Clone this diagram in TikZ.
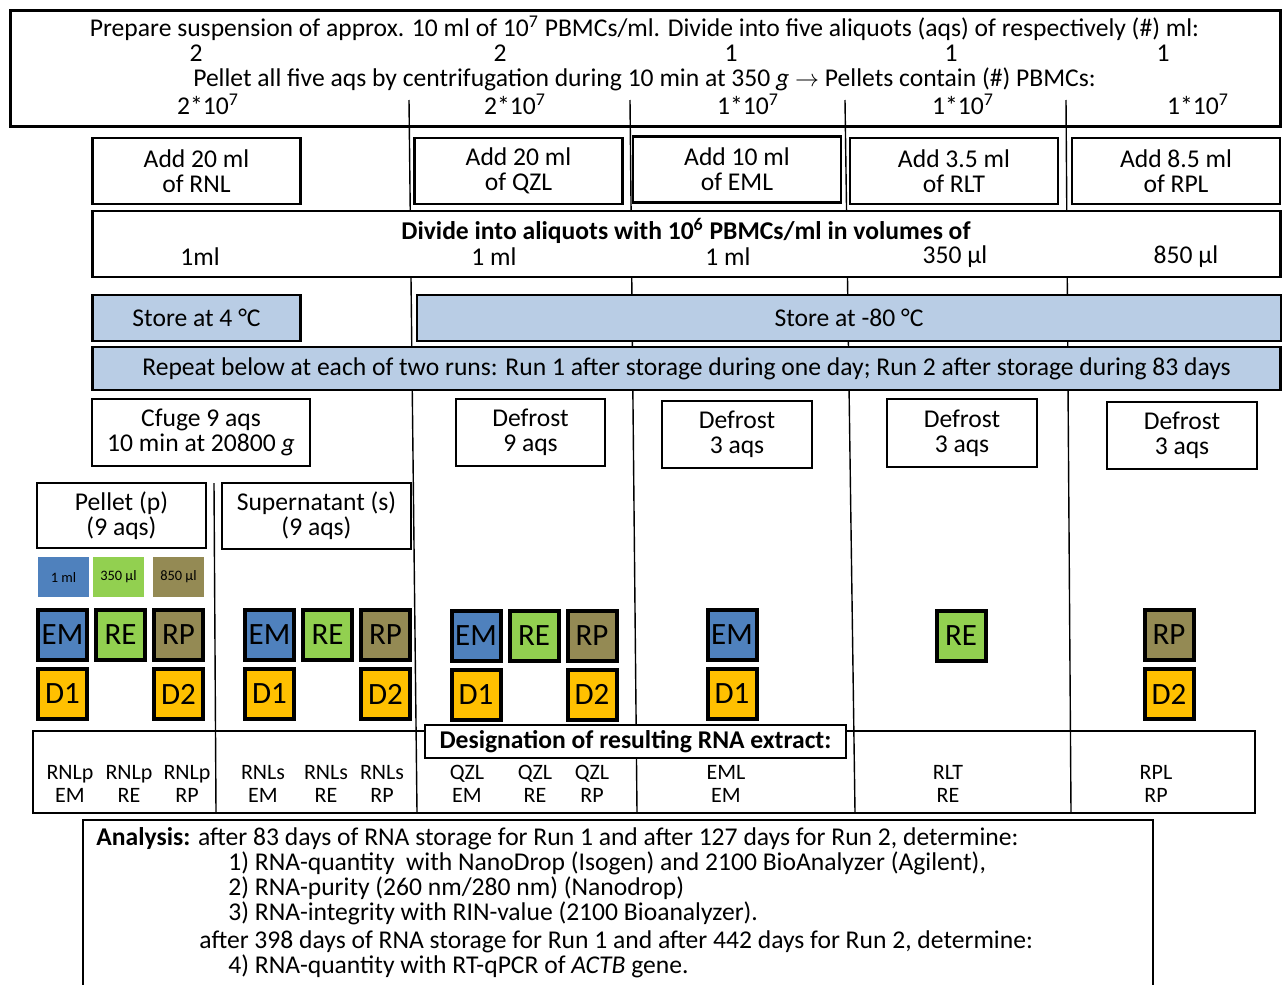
\documentclass[tikz,border=0pt]{standalone}
\usepackage{fontspec}
\setmainfont{Carlito}
\usepackage{tikz}
\usetikzlibrary{positioning}
\definecolor{embl}{HTML}{4F81BD}
\definecolor{regr}{HTML}{92D050}
\definecolor{rpol}{HTML}{948A54}
\definecolor{dyel}{HTML}{FFC000}
\definecolor{storebl}{HTML}{B9CDE5}
\tikzset{
    %Define style for step boxes
    stepbox/.style={
           rectangle,
           draw=black, line width=1.4pt,
           fill=white,
           inner sep=0pt,
           align=center},
    storebox/.style={stepbox, fill=storebl},
    %Define style for tubes
    tube/.style={
           rectangle,
           draw=black, line width=2pt,
           minimum width=24.5pt,
           minimum height=25pt,
           inner sep=0pt,
           font=\fontsize{15.5}{17}\selectfont},
    volume/.style={
           rectangle,
           minimum width=25.5pt,
           minimum height=20pt,
           inner sep=0pt,
           font=\fontsize{7.2}{8}\selectfont},
    lbl/.style={inner sep=0pt, align=center},
    extract/.style={lbl, font=\fontsize{11}{11.5}\selectfont},
    % Define style for column lines
    colline/.style={black, line width=0.7pt}
}
\begin{document}
\begin{tikzpicture}[x=0.5pt,y=-0.5pt,font=\fontsize{12.8}{12.5}\selectfont,node distance=2.5pt]
\useasboundingbox (0,0) rectangle (1285,985);
\clip (0,0) rectangle (1285,985);
 %header
\node[stepbox, minimum width=635pt, minimum height=58pt] (prep) at (645.5,68.5) {};
 %column lines
\coordinate (c1a) at (409,100);  \coordinate (c1b) at (417,812);
\coordinate (c2a) at (630,100);  \coordinate (c2b) at (637,812);
\coordinate (c3a) at (845,100);  \coordinate (c3b) at (855,812);
\coordinate (c4a) at (1066,100); \coordinate (c4b) at (1071,812);
\coordinate (c5a) at (214,483);  \coordinate (c5b) at (216,812);
\draw[colline] (c1a) -- (c1b);
\draw[colline] (c2a) -- (c2b);
\draw[colline] (c3a) -- (c3b);
\draw[colline] (c4a) -- (c4b);
\draw[colline] (c5a) -- (c5b);

\node[lbl] (prepA) at (644.5,28) {Prepare suspension of approx. 10 ml of 10\textsuperscript{7} PBMCs/ml. Divide into five aliquots (aqs) of respectively (\#) ml:};
\node[lbl] (volRNL) at (196,53) {2};
\node[lbl] (volQZL) at (500,53) {2};
\node[lbl] (volEML) at (731,53) {1};
\node[lbl] (volRLT) at (951,53) {1};
\node[lbl] (volRPL) at (1163,53) {1};
\node[lbl] (prepB) at (644.5,79) {Pellet all five aqs by centrifugation during 10 min at 350 \textit{g} $\rightarrow$ Pellets contain (\#) PBMCs:};
\node[lbl] (cntRNL) at (208,104) {2*10\textsuperscript{7}};
\node[lbl] (cntQZL) at (515,104) {2*10\textsuperscript{7}};
\node[lbl] (cntEML) at (748,104) {1*10\textsuperscript{7}};
\node[lbl] (cntRLT) at (963,104) {1*10\textsuperscript{7}};
\node[lbl] (cntRPL) at (1198,104) {1*10\textsuperscript{7}};

 %lysis buffers
\node[stepbox, minimum width=104pt, minimum height=33pt] (addRNL) at (196.5,171) {Add 20 ml\\of RNL};
\node[stepbox, minimum width=104pt, minimum height=33pt] (addQZL) at (518.5,171) {Add 20 ml\\of QZL};
\node[stepbox, minimum width=104pt, minimum height=33pt] (addEML) at (737,169.5) {Add 10 ml\\of EML};
\node[stepbox, minimum width=104pt, minimum height=33pt] (addRLT) at (954,171) {Add 3.5 ml\\of RLT};
\node[stepbox, minimum width=104pt, minimum height=33pt] (addRPL) at (1176,171) {Add 8.5 ml\\of RPL};

\node[stepbox, minimum width=594pt, minimum height=33pt] (divide) at (686.5,244) {};
\node[lbl] (divA) at (686,231) {\bfseries Divide into aliquots with 10\textsuperscript{6} PBMCs/ml in volumes of};
\node[lbl] (aqRNL) at (200,257) {1ml};
\node[lbl] (aqQZL) at (494,257) {1 ml};
\node[lbl] (aqEML) at (728,257) {1 ml};
\node[lbl] (aqRLT) at (955,257) {350 µl};
\node[lbl] (aqRPL) at (1186,257) {850 µl};

 %storage
\node[storebox, minimum width=104pt, minimum height=23pt] (store4) at (196.5,318) {Store at 4 °C};
\node[storebox, minimum width=432pt, minimum height=23pt] (store80) at (849,318) {Store at -80 °C};
\node[storebox, minimum width=594pt, minimum height=21.5pt] (repeat) at (686.5,368.5) {Repeat below at each of two runs: Run 1 after storage during one day; Run 2 after storage during 83 days};

 %thawing
\node[stepbox, minimum width=109pt, minimum height=33.5pt] (cfuge) at (201,432.5) {Cfuge 9 aqs\\10 min at 20800 \textit{g}};
\node[stepbox, minimum width=74.5pt, minimum height=33.5pt] (defQZL) at (530.5,432.5) {Defrost\\9 aqs};
\node[stepbox, minimum width=75pt, minimum height=33.5pt] (defEML) at (737,434.5) {Defrost\\3 aqs};
\node[stepbox, minimum width=75pt, minimum height=34pt] (defRLT) at (962,433) {Defrost\\3 aqs};
\node[stepbox, minimum width=75pt, minimum height=33.5pt] (defRPL) at (1182,435.5) {Defrost\\3 aqs};
\node[stepbox, minimum width=84.5pt, minimum height=32.5pt] (pellet) at (121.5,515.5) {Pellet (p)\\(9 aqs)};
\node[stepbox, minimum width=94.5pt, minimum height=33pt] (super) at (316.5,516) {Supernatant (s)\\(9 aqs)};

 %volumes
\node[volume, fill=embl] (legEM) at (63.5,577) {1 ml};
\node[volume, fill=regr] (legRE) at (118.5,577) {350 µl};
\node[volume, fill=rpol] (legRP) at (178.5,577) {850 µl};

 %extraction tubes
\node[tube, fill=embl] (pEM) at (62.5,635) {EM};
\node[tube, fill=regr, right=of pEM] (pRE) {RE};
\node[tube, fill=rpol, right=of pRE] (pRP) {RP};
\node[tube, fill=dyel, below=of pEM] (pD1) {D1};
\node[tube, fill=dyel, below=of pRP] (pD2) {D2};

\node[tube, fill=embl] (sEM) at (269.5,635) {EM};
\node[tube, fill=regr, right=of sEM] (sRE) {RE};
\node[tube, fill=rpol, right=of sRE] (sRP) {RP};
\node[tube, fill=dyel, below=of sEM] (sD1) {D1};
\node[tube, fill=dyel, below=of sRP] (sD2) {D2};

\node[tube, fill=embl] (qEM) at (476,635.5) {EM};
\node[tube, fill=regr, right=of qEM] (qRE) {RE};
\node[tube, fill=rpol, right=of qRE] (qRP) {RP};
\node[tube, fill=dyel, below=of qEM] (qD1) {D1};
\node[tube, fill=dyel, below=of qRP] (qD2) {D2};

\node[tube, fill=embl] (eEM) at (732,635) {EM};
\node[tube, fill=dyel, below=of eEM] (eD1) {D1};
\node[tube, fill=regr] (tRE) at (961,636) {RE};
\node[tube, fill=rpol] (lRP) at (1169,635) {RP};
\node[tube, fill=dyel, below=of lRP] (lD2) {D2};

 %designations
\node[rectangle, draw=black, line width=0.7pt, minimum width=611pt, minimum height=41pt] (names) at (644,772) {};
\node[rectangle, draw=black, line width=0.7pt, fill=white, minimum width=210.5pt, minimum height=16.5pt, inner sep=0pt] (desig) at (635.5,741.5) {\bfseries Designation of resulting RNA extract:};
\node[extract] (nRNLpEM) at (70,783.5) {RNLp\\EM};
\node[extract] (nRNLpRE) at (129,783.5) {RNLp\\RE};
\node[extract] (nRNLpRP) at (187,783.5) {RNLp\\RP};
\node[extract] (nRNLsEM) at (263,783.5) {RNLs\\EM};
\node[extract] (nRNLsRE) at (326,783.5) {RNLs\\RE};
\node[extract] (nRNLsRP) at (382,783.5) {RNLs\\RP};
\node[extract] (nQZLEM) at (467,783.5) {QZL\\EM};
\node[extract] (nQZLRE) at (535,783.5) {QZL\\RE};
\node[extract] (nQZLRP) at (592,783.5) {QZL\\RP};
\node[extract] (nEMLEM) at (726,783.5) {EML\\EM};
\node[extract] (nRLTRE) at (948,783.5) {RLT\\RE};
\node[extract] (nRPLRP) at (1156,783.5) {RPL\\RP};

 %analysis
\node[stepbox, minimum width=535pt, minimum height=90pt] (analysis) at (618,910) {};
\node[lbl, anchor=north west, align=left] (anaText) at (96,827) {\textbf{Analysis:} after 83 days of RNA storage for Run 1 and after 127 days for Run 2, determine:\\
\hspace*{66pt}1) RNA-quantity\ \ with NanoDrop (Isogen) and 2100 BioAnalyzer (Agilent),\\
\hspace*{66pt}2) RNA-purity (260 nm/280 nm) (Nanodrop)\\
\hspace*{66pt}3) RNA-integrity with RIN-value (2100 Bioanalyzer).\\[1.5pt]
\hspace*{51.5pt}after 398 days of RNA storage for Run 1 and after 442 days for Run 2, determine:\\
\hspace*{66pt}4) RNA-quantity with RT-qPCR of \textit{ACTB} gene.};

\end{tikzpicture}
\end{document}
